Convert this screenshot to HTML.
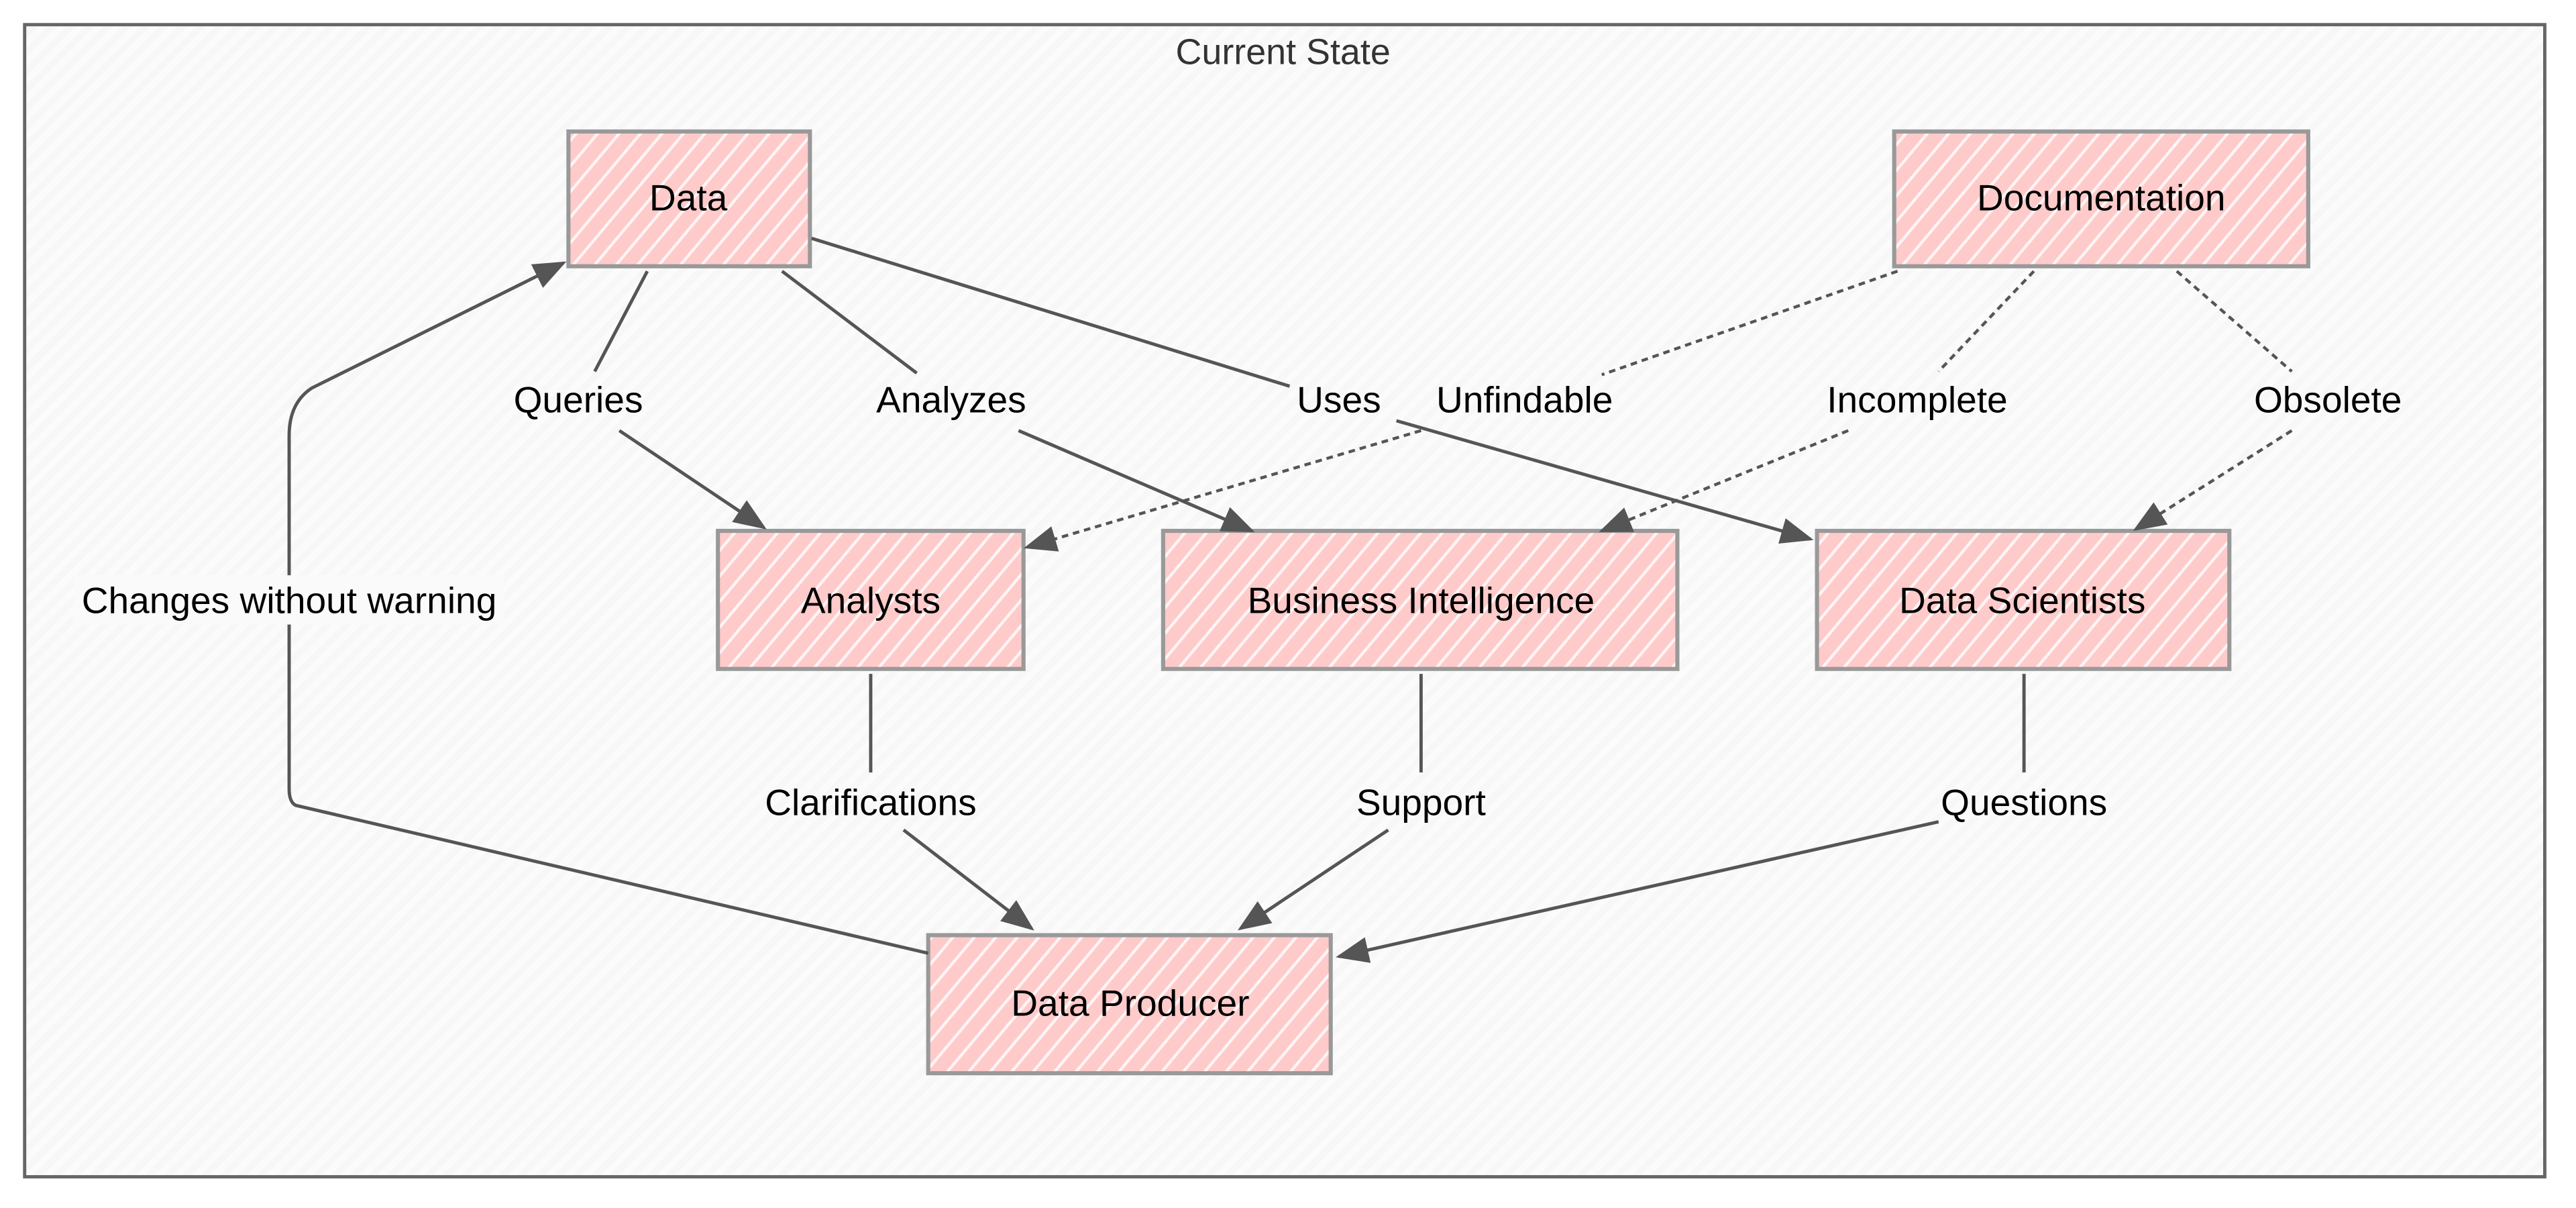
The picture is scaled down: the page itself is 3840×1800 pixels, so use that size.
<!DOCTYPE html>
<html><head><meta charset="utf-8"><style>
html,body{margin:0;padding:0;background:#fff;}
svg{display:block;}
text{font-family:"Liberation Sans",Arial,sans-serif;}
</style></head><body>
<svg width="3840" height="1800" viewBox="0 0 1568 735" preserveAspectRatio="none" xmlns="http://www.w3.org/2000/svg">
<defs>
<pattern id="bg" width="8" height="8" patternUnits="userSpaceOnUse" patternTransform="rotate(45)">
<rect width="8" height="8" fill="#fbfbfb"/><rect width="4" height="8" fill="#f7f7f7"/>
</pattern>
<pattern id="pk" width="10" height="10" patternUnits="userSpaceOnUse" patternTransform="rotate(40)">
<rect width="10" height="10" fill="#ffcaca"/><rect width="1.8" height="10" fill="#fff4f4"/>
</pattern>
<marker id="ar2" markerWidth="20" markerHeight="16" refX="18" refY="8" orient="auto" markerUnits="userSpaceOnUse" viewBox="0 0 20 16">
<path d="M0,0 L20,8 L0,16 Z" fill="#555"/>
</marker>
</defs>
<rect x="0" y="0" width="1568" height="735" fill="#fff"/>
<rect x="15" y="15" width="1534" height="701" fill="url(#bg)" stroke="#666" stroke-width="2"/>
<text x="781" y="39" font-size="22" text-anchor="middle" fill="#333">Current State</text>

<g fill="url(#pk)" stroke="#999" stroke-width="2.5">
<rect x="346" y="80" width="147" height="82"/>
<rect x="1153" y="80" width="252" height="82"/>
<rect x="437" y="323" width="186" height="84"/>
<rect x="708" y="323" width="313" height="84"/>
<rect x="1106" y="323" width="251" height="84"/>
<rect x="565" y="569" width="245" height="84"/>
</g>
<g font-size="22.5" text-anchor="middle" fill="#000">
<text x="419" y="128">Data</text>
<text x="1279" y="128">Documentation</text>
<text x="530" y="373">Analysts</text>
<text x="865" y="373">Business Intelligence</text>
<text x="1231" y="373">Data Scientists</text>
<text x="688" y="618">Data Producer</text>
</g>

<g stroke="#555" stroke-width="2" fill="none">
<path d="M394,165 L362,226"/><path d="M377,262 L465,321" marker-end="url(#ar2)"/>
<path d="M476,165 L558,227"/><path d="M620,262 L762,323" marker-end="url(#ar2)"/>
<path d="M494,145 L785,235"/><path d="M850,256 L1102,328" marker-end="url(#ar2)"/>
<path d="M530,410 L530,470"/><path d="M550,505 L628,565" marker-end="url(#ar2)"/>
<path d="M865,410 L865,470"/><path d="M845,505 L755,565" marker-end="url(#ar2)"/>
<path d="M1232,410 L1232,470"/><path d="M1180,500 L815,582" marker-end="url(#ar2)"/>
<path d="M565,580 L180,490 Q176,488 176,480 L176,265 Q176,245 190,236 L343,160" marker-end="url(#ar2)"/>
</g>
<g stroke="#555" stroke-width="1.8" fill="none" stroke-dasharray="4,3">
<path d="M1155,165 L975,228"/><path d="M865,262 L625,333" marker-end="url(#ar2)"/>
<path d="M1238,165 L1180,226"/><path d="M1125,262 L975,323" marker-end="url(#ar2)"/>
<path d="M1325,165 L1395,226"/><path d="M1395,262 L1300,322" marker-end="url(#ar2)"/>
</g>
<rect x="45" y="350" width="262" height="30" fill="#fafafa"/>

<g font-size="22.5" text-anchor="middle" fill="#000">
<text x="352" y="251">Queries</text>
<text x="579" y="251">Analyzes</text>
<text x="815" y="251">Uses</text>
<text x="928" y="251">Unfindable</text>
<text x="1167" y="251">Incomplete</text>
<text x="1417" y="251">Obsolete</text>
<text x="176" y="373">Changes without warning</text>
<text x="530" y="496">Clarifications</text>
<text x="865" y="496">Support</text>
<text x="1232" y="496">Questions</text>
</g>
</svg>
</body></html>
